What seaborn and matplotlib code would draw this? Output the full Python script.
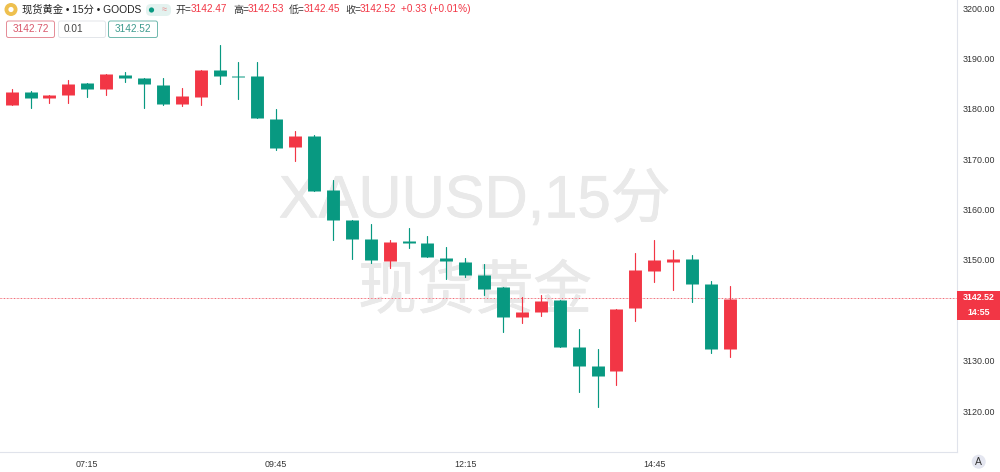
import pandas as pd
import matplotlib
matplotlib.use("Agg")
import matplotlib.pyplot as plt
import matplotlib.patheffects as pe
import seaborn as sns
from matplotlib.patches import FancyBboxPatch, Circle

# ====== DATA ======
opens = [3180.75, 3183.33, 3182.23, 3182.73, 3185.05, 3183.92, 3186.70, 3186.01, 3184.81, 3181.04,
         3182.33, 3187.69, 3186.60, 3186.50, 3177.97, 3172.41, 3174.59, 3163.87, 3157.92, 3154.15,
         3149.84, 3153.75, 3153.35, 3150.38, 3149.64, 3147.00, 3144.56, 3138.66, 3139.66, 3141.98,
         3132.65, 3128.94, 3127.94, 3140.45, 3147.79, 3149.64, 3150.12, 3145.21, 3132.25, 3142.47]
highs = [3183.92, 3183.52, 3182.73, 3185.71, 3185.11, 3186.90, 3187.30, 3186.01, 3186.10, 3184.12,
         3187.69, 3192.66, 3189.28, 3189.28, 3179.95, 3175.58, 3174.85, 3165.86, 3157.92, 3157.06,
         3153.95, 3156.39, 3154.80, 3152.62, 3150.38, 3149.18, 3144.56, 3142.69, 3143.03, 3141.98,
         3136.22, 3132.31, 3140.31, 3151.43, 3153.95, 3151.96, 3150.97, 3145.87, 3144.82, 3142.53]
lows = [3180.75, 3180.15, 3181.14, 3181.14, 3182.33, 3182.73, 3185.41, 3180.15, 3180.75, 3180.55,
        3180.75, 3184.91, 3181.94, 3178.07, 3171.81, 3169.63, 3163.73, 3153.95, 3150.24, 3149.38,
        3148.45, 3152.30, 3150.51, 3146.27, 3146.66, 3143.03, 3135.63, 3137.53, 3138.86, 3132.77,
        3123.78, 3120.74, 3125.16, 3137.93, 3145.67, 3144.02, 3141.58, 3131.58, 3130.78, 3142.45]
closes = [3183.33, 3182.14, 3182.67, 3184.91, 3183.92, 3186.90, 3186.10, 3184.91, 3181.04, 3182.53,
          3187.69, 3186.50, 3186.30, 3178.07, 3172.21, 3174.59, 3163.73, 3157.92, 3154.21, 3149.98,
          3153.49, 3153.41, 3150.51, 3149.72, 3147.00, 3144.22, 3138.60, 3139.66, 3141.84, 3132.77,
          3129.00, 3127.01, 3140.31, 3147.93, 3149.98, 3150.18, 3145.27, 3132.37, 3142.30, 3142.52]
x_ticks = [4, 14, 24, 34]
x_labels = ["07:15", "09:45", "12:15", "14:45"]
# 3140.00 sits behind the price box in the reference, so it has no label
y_ticks = [3120, 3130, 3150, 3160, 3170, 3180, 3190, 3200]
last_price = 3142.52

# ====== CONFIG ======
RED = "#f23645"
GREEN = "#089981"
FONT = ["Liberation Sans", "Noto Sans CJK SC"]
PANE_H = 452 / 472

sns.set_theme(style="white")
plt.rcParams["font.family"] = FONT

df = pd.DataFrame({"i": range(len(opens)), "open": opens, "high": highs, "low": lows, "close": closes})
df["dir"] = ["up" if c >= o else "down" for o, c in zip(df["open"], df["close"])]
wicks = df.melt(id_vars=["i", "dir"], value_vars=["low", "high"], value_name="price")
bodies = df.melt(id_vars=["i", "dir"], value_vars=["open", "close"], value_name="price")
palette = {"up": RED, "down": GREEN}

fig = plt.figure(figsize=(10, 4.72), dpi=100, facecolor="white")
ax = fig.add_axes([0, 1 - PANE_H, 0.957, PANE_H])

# ====== WATERMARK ======
thick = [pe.withStroke(linewidth=0.5, foreground="#e9e9e9")]
ax.text(0.496, 0.555, "XAUUSD,15分", transform=ax.transAxes, ha="center", va="center",
        fontsize=43, color="#e9e9e9", zorder=0, path_effects=thick)
ax.text(0.4965, 0.351, "现货黄金", transform=ax.transAxes, ha="center", va="center",
        fontsize=42, color="#e9e9e9", zorder=0, path_effects=thick)

# ====== CANDLES ======
sns.lineplot(data=wicks, x="i", y="price", hue="dir", units="i", estimator=None, palette=palette,
             linewidth=0.85, legend=False, ax=ax, zorder=3)
sns.lineplot(data=bodies, x="i", y="price", hue="dir", units="i", estimator=None, palette=palette,
             linewidth=9.3, legend=False, ax=ax, zorder=4, solid_capstyle="butt")

ax.axhline(last_price, color="#f7c6cb", lw=0.5, zorder=1)
ax.axhline(last_price, color=RED, lw=0.7, ls=(0, (1, 2.5)), alpha=0.75, zorder=2)

# ====== AXES ======
ax.set_xlim(-0.619, 50.02)
ax.set_ylim(3111.87, 3201.59)
ax.set_xlabel("")
ax.set_ylabel("")
ax.set_xticks(x_ticks, x_labels)
ax.yaxis.tick_right()
ax.set_yticks(y_ticks, [f"{v:.2f}" for v in y_ticks])
ax.tick_params(axis="x", length=0, pad=5.5, labelsize=6.4, labelcolor="#333333")
ax.tick_params(axis="y", length=0, pad=4.3, labelsize=6.4, labelcolor="#333333")
ax.grid(False)
ax.spines["top"].set_visible(False)
ax.spines["left"].set_visible(False)
ax.spines["right"].set_color("#e0e3eb")
ax.spines["bottom"].set_color("#e0e3eb")
for s in ["right", "bottom"]:
    ax.spines[s].set_linewidth(0.8)

# ====== HEADER AND PRICE BOX (screen pixels) ======
ui = fig.add_axes([0, 0, 1, 1], zorder=10)
ui.set_xlim(0, 1000)
ui.set_ylim(472, 0)
ui.axis("off")


def box(x, y, w, h, face, edge, r=2):
    ui.add_patch(FancyBboxPatch((x + r, y + r), w - 2 * r, h - 2 * r, boxstyle=f"round,pad={r}",
                                fc=face, ec=edge, lw=0.7))


def label(x, y, s, color="#333333", size=7.2, ha="left", weight="normal"):
    ui.text(x, y, s, color=color, fontsize=size, ha=ha, va="center", fontweight=weight)


ui.add_patch(Circle((11, 9.5), 6.5, fc="#eec04f", ec="none"))
ui.add_patch(Circle((11, 9.5), 2.6, fc="white", ec="none"))
label(22, 9.5, "现货黄金 • 15分 • GOODS", "#222222", 7.4)
box(146, 4, 25, 12, "#e3f2ef", "none", 5)
ui.add_patch(Circle((151.5, 10), 2.6, fc=GREEN, ec="none"))
label(164.5, 10, "≈", "#e88a8a", 6.5, "center")

cols = [(176, "开", "3142.47"), (233, "高", "3142.53"), (289, "低", "3142.45"), (345, "收", "3142.52")]
for x, name, val in cols:
    label(x, 9.5, name + "=", "#333333")
    label(x + 15, 9.5, val, RED)
label(401, 9.5, "+0.33 (+0.01%)", RED)

box(6.5, 21, 48, 16.5, "white", "#e58b96")
label(30.5, 29.5, "3142.72", "#d9566a", 7.2, "center")
box(58.5, 21, 47, 16.5, "white", "#e3e6ea")
label(64, 29.5, "0.01", "#444444")
box(108.5, 21, 49, 16.5, "white", "#6fb8ad")
label(133, 29.5, "3142.52", "#3c9b8d", 7.2, "center")

ui.add_patch(plt.Rectangle((957, 290.5), 43, 29, fc=RED, ec="none"))
label(978.5, 297.5, "3142.52", "white", 6.4, "center", "bold")
label(978.5, 312.5, "14:55", "white", 6.4, "center", "bold")
ui.add_patch(Circle((978.7, 461.7), 7, fc="#e4e6f0", ec="none"))
label(978.7, 461.7, "A", "#333333", 7.5, "center")

plt.savefig("out.png", dpi=100)
plt.close()
